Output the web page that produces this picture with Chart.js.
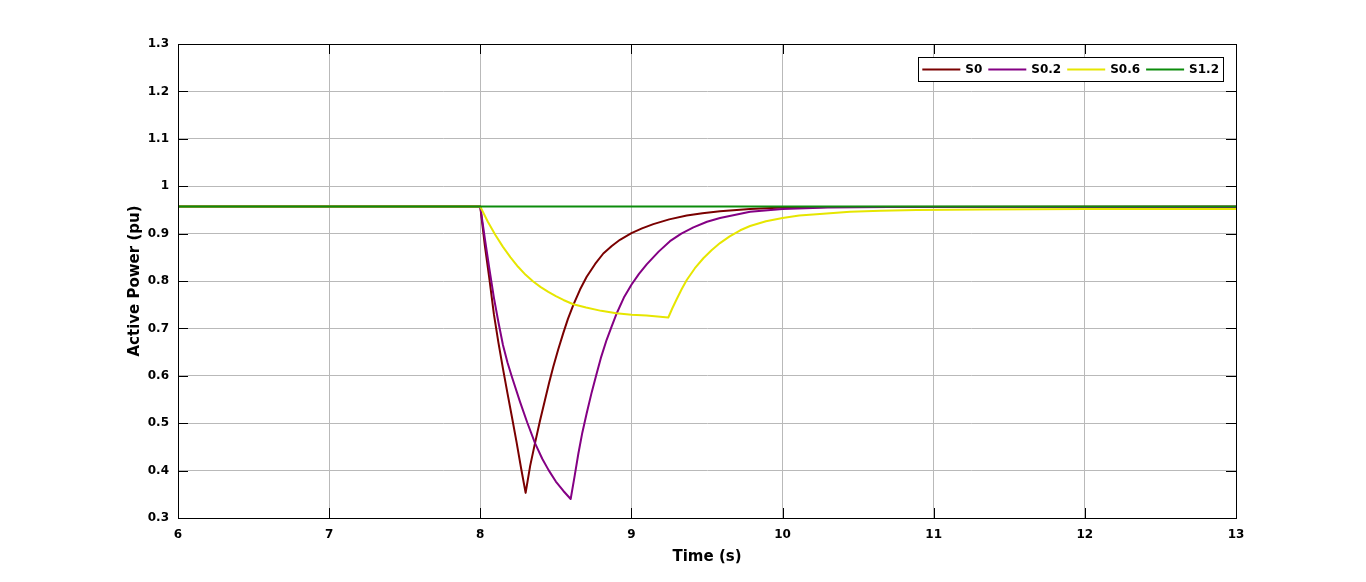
<!DOCTYPE html>
<html>
<head>
<meta charset="utf-8">
<script src="https://cdn.jsdelivr.net/npm/chart.js@4.4.1/dist/chart.umd.min.js"></script>
<style>
  html, body { margin: 0; padding: 0; background: #ffffff; }
  #c { display: block; }
</style>
</head>
<body>
<canvas id="c" width="1366" height="582"></canvas>
<script>
// ---- Data ----
const seriesLabels = ['S0', 'S0.2', 'S0.6', 'S1.2'];
const seriesColors = ['#7a0000', '#840084', '#e6e600', '#0c8c0c'];

const s0Time  = [6, 8.0, 8.03, 8.06, 8.09, 8.12, 8.15, 8.18, 8.21, 8.24, 8.27, 8.30,
                 8.33, 8.362, 8.395, 8.428, 8.455, 8.483, 8.515, 8.549, 8.58, 8.615, 8.66, 8.704, 8.76, 8.814, 8.87, 8.924,
                 9.0, 9.07, 9.145, 9.25, 9.366, 9.47, 9.586, 9.785, 10.0, 10.3, 13];
const s0Power = [0.957, 0.957, 0.875, 0.805, 0.73, 0.67, 0.615, 0.563, 0.512, 0.46, 0.405, 0.353,
                 0.41, 0.458, 0.505, 0.549, 0.585, 0.619, 0.655, 0.690, 0.72, 0.749, 0.782, 0.809, 0.836, 0.858, 0.874, 0.887,
                 0.901, 0.911, 0.920, 0.930, 0.938, 0.943, 0.947, 0.952, 0.955, 0.956, 0.957];

const s02Time  = [6, 8.0, 8.03, 8.06, 8.09, 8.12, 8.15, 8.18, 8.21, 8.263, 8.31, 8.362, 8.41, 8.452, 8.50, 8.55, 8.598,
                  8.625, 8.649, 8.675, 8.704, 8.737, 8.770, 8.80, 8.836, 8.87, 8.903, 8.95, 9.0, 9.05, 9.101, 9.18, 9.255,
                  9.33, 9.41, 9.50, 9.586, 9.785, 10.0, 10.3, 10.7, 13];
const s02Power = [0.957, 0.957, 0.89, 0.826, 0.765, 0.713, 0.665, 0.628, 0.597, 0.545, 0.502, 0.458, 0.425, 0.401, 0.377, 0.357, 0.340,
                  0.39, 0.436, 0.48, 0.521, 0.565, 0.605, 0.64, 0.676, 0.705, 0.732, 0.765, 0.792, 0.815, 0.835, 0.862, 0.884,
                  0.900, 0.913, 0.925, 0.933, 0.946, 0.952, 0.955, 0.956, 0.956];

const s06Time  = [6, 8.0, 8.05, 8.10, 8.15, 8.20, 8.25, 8.30, 8.35, 8.40, 8.45, 8.50, 8.55, 8.615, 8.70, 8.80, 8.90, 9.0, 9.1, 9.244,
                  9.27, 9.30, 9.333, 9.366, 9.42, 9.476, 9.53, 9.586, 9.65, 9.72, 9.785, 9.89, 10.0, 10.11, 10.225, 10.446, 10.65,
                  10.887, 11.33, 12, 13];
const s06Power = [0.957, 0.957, 0.925, 0.897, 0.872, 0.850, 0.830, 0.813, 0.799, 0.787, 0.777, 0.768, 0.760, 0.751, 0.744, 0.737, 0.732, 0.729, 0.727, 0.723,
                  0.742, 0.762, 0.783, 0.802, 0.827, 0.848, 0.865, 0.880, 0.894, 0.907, 0.916, 0.926, 0.933, 0.938, 0.941, 0.946, 0.948,
                  0.950, 0.951, 0.952, 0.952];

const s12Time  = [6, 8.0, 9.25, 13];
const s12Power = [0.957, 0.957, 0.957, 0.957];

const xTicks = [6, 7, 8, 9, 10, 11, 12, 13];
const xTickLabels = ['6', '7', '8', '9', '10', '11', '12', '13'];
const yTicks = [0.3, 0.4, 0.5, 0.6, 0.7, 0.8, 0.9, 1.0, 1.1, 1.2, 1.3];
const yTickLabels = ['0.3', '0.4', '0.5', '0.6', '0.7', '0.8', '0.9', '1', '1.1', '1.2', '1.3'];

const xTitle = 'Time (s)';
const yTitle = 'Active Power (pu)';

// ---- Build datasets ----
function pts(t, v) { return t.map((x, i) => ({ x: x, y: v[i] })); }
const allTimes = [s0Time, s02Time, s06Time, s12Time];
const allPowers = [s0Power, s02Power, s06Power, s12Power];
const drawOrder = [3, 2, 1, 0]; // later series on top, as in the original

const datasets = seriesLabels.map((lab, i) => ({
  label: lab,
  data: pts(allTimes[i], allPowers[i]),
  borderColor: seriesColors[i],
  backgroundColor: seriesColors[i],
  borderWidth: 2,
  pointRadius: 0,
  tension: 0,
  borderJoinStyle: 'round',
  fill: false,
  order: drawOrder[i]
}));

// ---- Plugins: MATLAB-like frame with inward ticks, and boxed legend ----
const framePlugin = {
  id: 'frame',
  afterDatasetsDraw(chart) {
    const { ctx, chartArea: a, scales } = chart;
    ctx.save();
    ctx.strokeStyle = '#000';
    ctx.lineWidth = 1;
    ctx.beginPath();
    xTicks.forEach(v => {
      const px = Math.round(scales.x.getPixelForValue(v)) + 0.5;
      ctx.moveTo(px, a.bottom); ctx.lineTo(px, a.bottom - 10);
      ctx.moveTo(px, a.top); ctx.lineTo(px, a.top + 10);
    });
    yTicks.forEach(v => {
      const py = Math.round(scales.y.getPixelForValue(v)) + 0.5;
      ctx.moveTo(a.left, py); ctx.lineTo(a.left + 10, py);
      ctx.moveTo(a.right, py); ctx.lineTo(a.right - 10, py);
    });
    ctx.stroke();
    ctx.strokeRect(Math.round(a.left) + 0.5, Math.round(a.top) + 0.5,
                   Math.round(a.right - a.left), Math.round(a.bottom - a.top));
    ctx.restore();
  }
};

const legendPlugin = {
  id: 'boxLegend',
  afterDraw(chart) {
    const { ctx, chartArea: a } = chart;
    ctx.save();
    ctx.font = 'bold 12px "DejaVu Sans"';
    const lineLen = 38, gapA = 5, gapB = 6, padL = 4, padR = 4;
    const widths = chart.data.datasets.map(d => ctx.measureText(d.label).width);
    let total = padL + padR;
    widths.forEach((w, i) => { total += lineLen + gapA + w + (i < widths.length - 1 ? gapB : 0); });
    const right = a.right - 13;
    const left = right - total;
    const top = a.top + 13;
    const h = 24;
    ctx.fillStyle = '#fff';
    ctx.fillRect(left, top, total, h);
    ctx.strokeStyle = '#000';
    ctx.lineWidth = 1;
    ctx.strokeRect(Math.round(left) + 0.5, Math.round(top) + 0.5, Math.round(total), h);
    const cy = top + h / 2 + 0.5;
    let x = left + padL;
    chart.data.datasets.forEach((d, i) => {
      ctx.strokeStyle = d.borderColor;
      ctx.lineWidth = 2;
      ctx.beginPath();
      ctx.moveTo(x, cy); ctx.lineTo(x + lineLen, cy);
      ctx.stroke();
      x += lineLen + gapA;
      ctx.fillStyle = '#000';
      ctx.textBaseline = 'middle';
      ctx.textAlign = 'left';
      ctx.fillText(d.label, x, cy);
      x += widths[i] + gapB;
    });
    ctx.restore();
  }
};

Chart.defaults.font.family = '"DejaVu Sans", sans-serif';
Chart.defaults.font.weight = 'bold';
Chart.defaults.color = '#000';

new Chart(document.getElementById('c'), {
  type: 'line',
  data: { datasets: datasets },
  options: {
    responsive: false,
    animation: false,
    devicePixelRatio: 1,
    layout: { padding: { top: 44, right: 130, left: 0, bottom: 0 } },
    plugins: {
      legend: { display: false },
      tooltip: { enabled: false },
      title: { display: false }
    },
    scales: {
      x: {
        type: 'linear',
        min: 6, max: 13,
        afterBuildTicks: s => { s.ticks = xTicks.map(v => ({ value: v })); },
        afterFit: s => { s.height = 64; },
        ticks: {
          padding: 10,
          maxRotation: 0,
          font: { size: 12, weight: 'bold', family: '"DejaVu Sans"' },
          color: '#000',
          callback: (v, i) => xTickLabels[i]
        },
        grid: { color: '#b9b9b9', lineWidth: 1, drawTicks: false },
        border: { display: true, color: '#000', width: 1 },
        title: {
          display: true, text: xTitle,
          font: { size: 15, weight: 'bold', family: '"DejaVu Sans"' },
          color: '#000',
          padding: { top: 0, bottom: 16 }
        }
      },
      y: {
        type: 'linear',
        min: 0.3, max: 1.3,
        afterBuildTicks: s => { s.ticks = yTicks.map(v => ({ value: v })); },
        afterFit: s => { s.width = 178; },
        ticks: {
          padding: 9,
          font: { size: 12, weight: 'bold', family: '"DejaVu Sans"' },
          color: '#000',
          callback: (v, i) => yTickLabels[i]
        },
        grid: { color: '#b9b9b9', lineWidth: 1, drawTicks: false },
        border: { display: true, color: '#000', width: 1 },
        title: {
          display: true, text: yTitle,
          font: { size: 15, weight: 'bold', family: '"DejaVu Sans"' },
          color: '#000',
          padding: { top: 126, bottom: 0 }
        }
      }
    }
  },
  plugins: [framePlugin, legendPlugin]
});
</script>
</body>
</html>
